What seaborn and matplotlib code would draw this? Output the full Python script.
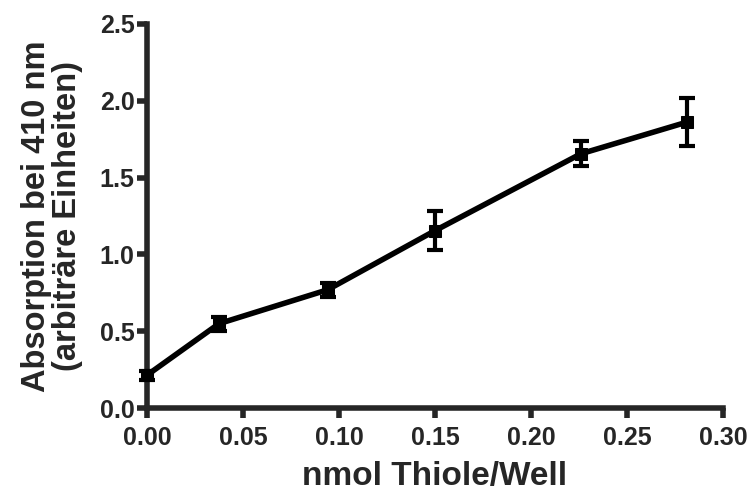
import matplotlib
matplotlib.use("Agg")
import matplotlib.pyplot as plt
import seaborn as sns
import pandas as pd

x_vals = [0.0, 0.0375, 0.094, 0.150, 0.226, 0.281]
y_vals = [0.215, 0.55, 0.77, 1.155, 1.655, 1.86]
y_err = [0.03, 0.045, 0.045, 0.125, 0.083, 0.155]
x_ticks = [0.00, 0.05, 0.10, 0.15, 0.20, 0.25, 0.30]
y_ticks = [0.0, 0.5, 1.0, 1.5, 2.0, 2.5]
x_label = "nmol Thiole/Well"
y_label = "Absorption bei 410 nm\n(arbiträre Einheiten)"

df = pd.DataFrame({"x": x_vals, "y": y_vals, "err": y_err})

sns.set_style("ticks")
plt.rcParams['font.family'] = ['Liberation Sans', 'DejaVu Sans']
plt.rcParams['font.weight'] = 'bold'

fig = plt.figure(figsize=(7.54, 4.96), dpi=100)
ax = fig.add_axes([0.195, 0.177, 0.764, 0.775])

ax.errorbar(df["x"], df["y"], yerr=df["err"], fmt="none", ecolor="black",
            elinewidth=3.0, capsize=6, capthick=3.0, clip_on=False, zorder=3)
sns.lineplot(data=df, x="x", y="y", ax=ax, color="black", linewidth=4.0,
             marker="s", markersize=9, markeredgecolor="black",
             markerfacecolor="black", clip_on=False, zorder=4)

ax.set_xlim(0, 0.30)
ax.set_ylim(0, 2.5)
ax.set_xticks(x_ticks)
ax.set_yticks(y_ticks)
ax.set_xticklabels([f"{v:.2f}" for v in x_ticks], fontsize=18, fontweight="bold")
ax.set_yticklabels([f"{v:.1f}" for v in y_ticks], fontsize=18, fontweight="bold")
ax.set_xlabel(x_label, fontsize=24, fontweight="bold", labelpad=8)
ax.set_ylabel(y_label, fontsize=23.5, fontweight="bold", labelpad=12, linespacing=1.0)

for s in ["top", "right"]:
    ax.spines[s].set_visible(False)
for s in ["left", "bottom"]:
    ax.spines[s].set_linewidth(4.0)
ax.tick_params(axis="both", direction="out", length=7, width=4.0)
ax.tick_params(axis="x", pad=6)
ax.tick_params(axis="y", pad=2)

fig.savefig("out.png", dpi=100)
